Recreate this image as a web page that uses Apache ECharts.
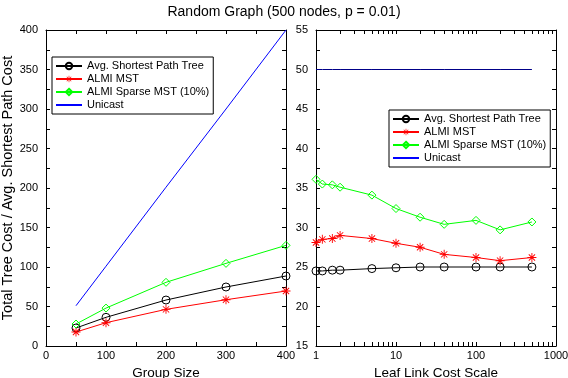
<!DOCTYPE html>
<html>
<head>
<meta charset="utf-8">
<script src="https://cdn.jsdelivr.net/npm/echarts@6/dist/echarts.min.js"></script>
<style>html,body{margin:0;padding:0;background:#fff}#c{width:568px;height:378px}</style>
</head>
<body>
<div id="c"></div>
<script>
// ---- data ----
const titleText = 'Random Graph (500 nodes, p = 0.01)';
const seriesNames = ['Avg. Shortest Path Tree', 'ALMI MST', 'ALMI Sparse MST (10%)', 'Unicast'];

// left panel: Group Size
const groupSize = [50, 100, 200, 300, 400];
const leftSPT = [22.8, 36.3, 58.2, 74.7, 88.6];
const leftMST = [17.7, 29.5, 46.4, 58.6, 69.6];
const leftSparse = [27.8, 48.0, 80.6, 104.6, 127.4];
const leftUnicast = [51, 101, 201, 300, 400];

// right panel: Leaf Link Cost Scale
const leafScale = [1, 1.2, 1.6, 2, 5, 10, 20, 40, 100, 200, 500];
const rightSPT = [24.5, 24.5, 24.6, 24.6, 24.8, 24.9, 25.0, 25.0, 25.0, 25.0, 25.0];
const rightMST = [28.1, 28.5, 28.6, 29.0, 28.6, 28.0, 27.5, 26.6, 26.2, 25.8, 26.2];
const rightSparse = [36.1, 35.5, 35.4, 35.1, 34.1, 32.4, 31.3, 30.4, 30.9, 29.7, 30.7];
const rightUnicast = [50, 50, 50, 50, 50, 50, 50, 50, 50, 50, 50];

// tick values for the log axis
const logTickValues = [1,2,3,4,5,6,7,8,9,10,20,30,40,50,60,70,80,90,100,200,300,400,500,600,700,800,900,1000];
const logLabelValues = [1, 10, 100, 1000];

// ---- chart ----
const FONT = 'Liberation Sans, Arial, Helvetica, sans-serif';
const pairs = (xs, ys) => xs.map((x, i) => [x, ys[i]]);
const star = 'path://M-1,-10L1,-10L1,10L-1,10Z M-10,-1L10,-1L10,1L-10,1Z M-7.7,-6.3L-6.3,-7.7L7.7,6.3L6.3,7.7Z M6.3,-7.7L7.7,-6.3L-6.3,7.7L-7.7,6.3Z';

const lineAx = { show: true, onZero: false, lineStyle: { color: '#000', width: 1 } };
function valueAxis(extra, showLabel, margin) {
  return Object.assign({
    type: 'value',
    axisLine: lineAx,
    axisTick: { show: true, inside: true, length: 4, lineStyle: { color: '#000' } },
    minorTick: { show: true, splitNumber: 2, length: 4, lineStyle: { color: '#000' } },
    axisLabel: { show: showLabel, color: '#000', fontSize: 11, fontFamily: FONT, showMinLabel: true, showMaxLabel: true, margin: margin || 6 },
    splitLine: { show: false },
    minorSplitLine: { show: false },
    nameTextStyle: { color: '#000', fontSize: 13, fontFamily: FONT }
  }, extra);
}
function logAxis(extra, showLabel) {
  return Object.assign({
    type: 'log', logBase: 10, min: 1, max: 1000,
    axisLine: lineAx,
    axisTick: { show: true, inside: true, length: 4, lineStyle: { color: '#000' }, customValues: logTickValues },
    axisLabel: { show: showLabel, color: '#000', fontSize: 11, fontFamily: FONT, margin: 4, customValues: logLabelValues, formatter: v => String(v) },
    splitLine: { show: false },
    nameTextStyle: { color: '#000', fontSize: 13.5, fontFamily: FONT }
  }, extra);
}

function mkSeries(name, xi, yi, data, color, symbol, size) {
  const hollow = symbol === 'circle' || symbol === 'diamond';
  return {
    name: name, type: 'line', xAxisIndex: xi, yAxisIndex: yi, data: data,
    symbol: symbol, symbolSize: size, showSymbol: symbol !== 'none',
    lineStyle: { color: color, width: 1 },
    itemStyle: hollow ? { color: 'rgba(255,255,255,0)', borderColor: color, borderWidth: 1 } : { color: color, borderWidth: 0 },
    emphasis: { disabled: true }, animation: false, silent: true, z: 3
  };
}

const legendData = [
  { name: seriesNames[0] },
  { name: seriesNames[1] },
  { name: seriesNames[2] },
  { name: seriesNames[3], itemStyle: { opacity: 0 } }
];
const legendBase = {
  orient: 'vertical', data: legendData,
  borderColor: '#000', borderWidth: 1, padding: [3, 4, 3, 3],
  itemWidth: 26, itemHeight: 8, itemGap: 1,
  textStyle: { color: '#000', fontSize: 11, fontFamily: FONT, lineHeight: 12 },
  selectedMode: false, backgroundColor: '#fff'
};

const option = {
  backgroundColor: '#fff',
  animation: false,
  title: { text: titleText, left: 'center', top: 0, textStyle: { color: '#000', fontSize: 14, fontWeight: 'normal', fontFamily: FONT } },
  legend: [
    Object.assign({}, legendBase, { left: 52, top: 57 }),
    Object.assign({}, legendBase, { left: 389, top: 110 })
  ],
  grid: [
    { left: 46, top: 30, width: 240, height: 316, containLabel: false, outerBoundsMode: 'none' },
    { left: 316, top: 30, width: 240, height: 316, containLabel: false, outerBoundsMode: 'none' }
  ],
  xAxis: [
    valueAxis({ gridIndex: 0, min: 0, max: 400, interval: 100, position: 'bottom', name: 'Group Size', nameLocation: 'middle', nameGap: 15, nameTextStyle: { color: '#000', fontSize: 13.5, fontFamily: FONT } }, true, 4),
    valueAxis({ gridIndex: 0, min: 0, max: 400, interval: 100, position: 'top' }, false),
    logAxis({ gridIndex: 1, position: 'bottom', name: 'Leaf Link Cost Scale', nameLocation: 'middle', nameGap: 15 }, true),
    logAxis({ gridIndex: 1, position: 'top' }, false)
  ],
  yAxis: [
    valueAxis({ gridIndex: 0, min: 0, max: 400, interval: 50, position: 'left', name: 'Total Tree Cost / Avg. Shortest Path Cost', nameLocation: 'middle', nameGap: 30, nameRotate: 90, nameTextStyle: { color: '#000', fontSize: 14.5, fontFamily: FONT } }, true, 8),
    valueAxis({ gridIndex: 0, min: 0, max: 400, interval: 50, position: 'right' }, false),
    valueAxis({ gridIndex: 1, min: 15, max: 55, interval: 5, position: 'left' }, true, 8),
    valueAxis({ gridIndex: 1, min: 15, max: 55, interval: 5, position: 'right' }, false)
  ],
  series: [
    mkSeries(seriesNames[3], 0, 0, pairs(groupSize, leftUnicast), '#0000ff', 'none', 0),
    mkSeries(seriesNames[0], 0, 0, pairs(groupSize, leftSPT), '#000000', 'circle', 8),
    mkSeries(seriesNames[1], 0, 0, pairs(groupSize, leftMST), '#ff0000', star, 9),
    mkSeries(seriesNames[2], 0, 0, pairs(groupSize, leftSparse), '#00ff00', 'diamond', 8),
    mkSeries(seriesNames[0], 2, 2, pairs(leafScale, rightSPT), '#000000', 'circle', 8),
    mkSeries(seriesNames[1], 2, 2, pairs(leafScale, rightMST), '#ff0000', star, 9),
    mkSeries(seriesNames[2], 2, 2, pairs(leafScale, rightSparse), '#00ff00', 'diamond', 8),
    mkSeries(seriesNames[3], 2, 2, pairs(leafScale, rightUnicast), '#000088', 'none', 0)
  ]
};
const chart = echarts.init(document.getElementById('c'), null, { renderer: 'canvas' });
chart.setOption(option);
</script>
</body>
</html>
